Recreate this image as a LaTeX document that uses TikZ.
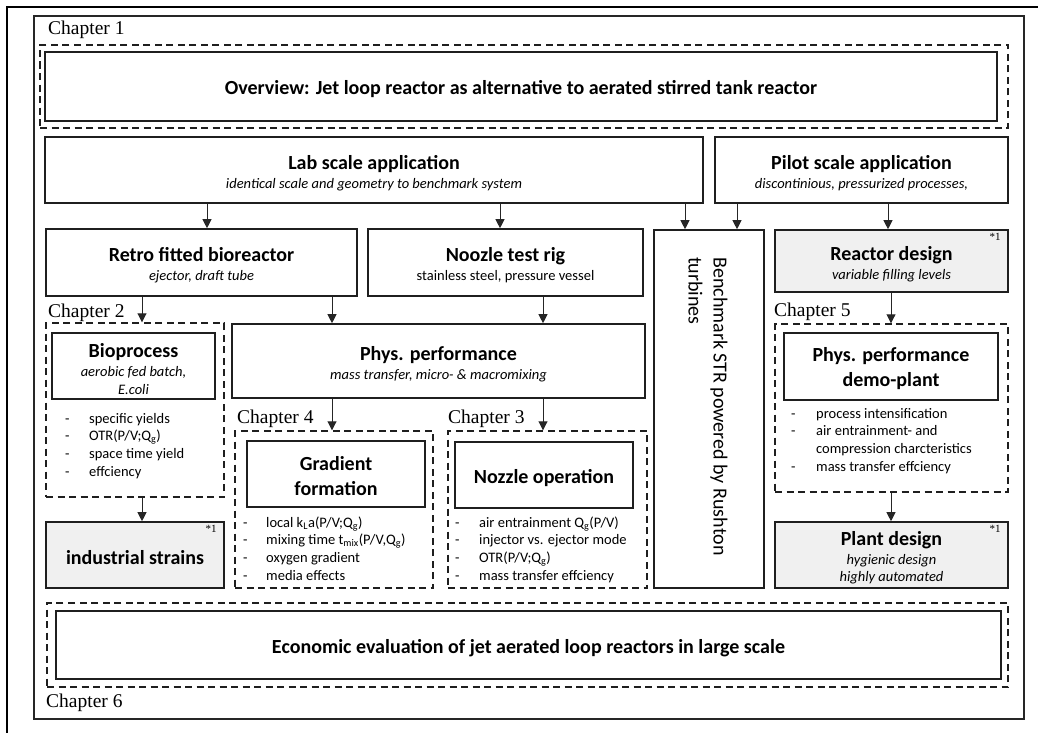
\documentclass[tikz,border=0pt]{standalone}
\usepackage{fontspec}
\setmainfont{Carlito}
\newfontfamily\serifchap{Liberation Serif}
\usetikzlibrary{arrows.meta}
\tikzset{
  sz/.style 2 args={minimum width=#1pt, minimum height=#2pt},
  box/.style={draw=black!88, line width=1.6pt, inner sep=0pt},
  graybox/.style={box, fill=black!6},
  txt/.style={inner sep=0pt, align=center, font=\fontsize{14.5}{17.5}\selectfont},
  bigtxt/.style={inner sep=0pt, align=center, font=\fontsize{20}{24.5}\selectfont\bfseries},
  dbox/.style={draw=black!88, line width=1.4pt, dash pattern=on 7pt off 4.5pt, inner sep=0pt},
  framebox/.style={draw=black!85, line width=1.4pt, inner sep=0pt},
  chap/.style={font=\serifchap\fontsize{19.5}{22}\selectfont, anchor=base west, inner sep=0pt},
  starmark/.style={font=\serifchap\fontsize{11}{13}\selectfont, anchor=north east, inner sep=0pt},
  bul/.style={font=\fontsize{14.5}{17.7}\selectfont, anchor=base west, inner sep=0pt},
  arr/.style={line width=0.9pt, draw=black!85, -{Triangle[width=9pt,length=9pt]}},
}
\newcommand\ttl[1]{{\fontsize{20}{24}\selectfont\bfseries #1}}
\newcommand\dsh[1]{\makebox[#1][l]{-}}
\begin{document}
\begin{tikzpicture}[x=1pt,y=-1pt]
\useasboundingbox (0,0) rectangle (1038,733);
% outer partial border
\draw[line width=2.4pt, black] (7,733) -- (7,7) -- (1038,7);
\node[framebox, sz={990}{703}] (frame) at (529,367.5) {};

% Chapter 1
\node[chap] (ch1) at (48,35) {Chapter 1};
\node[dbox, sz={968}{83}] (d1) at (524,86.5) {};
\node[box, sz={952}{69}] (ov) at (521,86.5) {};
\node[txt] (ovt) at ([yshift=-3pt]ov.center) {\ttl{Overview: Jet loop reactor as alternative to aerated stirred tank reactor}};

\node[box, sz={658}{66}] (lab) at (374,170) {};
\node[txt] (labt) at ([yshift=-3pt]lab.center) {\ttl{Lab scale application}\\[1.5pt] \textit{identical scale and geometry to benchmark system}};
\node[box, sz={293}{66}] (pilot) at (861.5,170) {};
\node[txt] (pilott) at ([yshift=-3pt]pilot.center) {\ttl{Pilot scale application}\\[1.5pt] \textit{discontinious, pressurized processes,}};

\node[box, sz={311}{67}] (retro) at (201.5,262.5) {};
\node[txt] (retrot) at ([yshift=-3pt]retro.center) {\ttl{Retro fitted bioreactor}\\[1.5pt] \textit{ejector, draft tube}};
\node[box, sz={275}{67}] (noozle) at (505.5,262.5) {};
\node[txt] (nooz) at ([yshift=-3pt]noozle.center) {\ttl{Noozle test rig}\\[1.5pt] stainless steel, pressure vessel};
\node[box, sz={110}{358}] (bench) at (709,409) {};
\node[rotate=-90, anchor=west, align=left, inner sep=0pt, font=\fontsize{20}{25}\selectfont] (benchtxt) at (708,257) {Benchmark STR powered by Rushton\\turbines};
\node[graybox, sz={233}{62}] (reactor) at (891.5,261) {};
\node[txt] (reactort) at ([yshift=-3pt]reactor.center) {\ttl{Reactor design}\\[1.5pt] \textit{variable filling levels}};
\node[starmark] (s1) at ([xshift=-8pt,yshift=-4pt]reactor.north east) {*1};

% Chapter 2
\node[chap] (ch2) at (48,317) {Chapter 2};
\node[dbox, sz={178}{174}] (d2) at (135,410) {};
\node[box, sz={163}{66}] (bio) at (133.5,366) {};
\node[txt] (biot) at ([yshift=-3pt]bio.center) {\ttl{Bioprocess}\\[1.5pt] \textit{aerobic fed batch,}\\ \textit{E.coli}};
\node[bul] (bl2) at (65,423) {\begin{tabular}[t]{@{}l@{}}
\dsh{24pt}specific yields\\
\dsh{24pt}OTR(P/V;Q\textsubscript{g})\\
\dsh{24pt}space time yield\\
\dsh{24pt}effciency
\end{tabular}};
\node[graybox, sz={178}{66}] (ind) at (135,555) {};
\node[txt] (indt) at ([yshift=-3pt]ind.center) {\ttl{industrial strains}};
\node[starmark] (s2) at ([xshift=-8pt,yshift=-4pt]ind.north east) {*1};

% Phys performance
\node[box, sz={413}{74}] (phys) at (438.5,361) {};
\node[txt] (physt) at ([yshift=-3pt]phys.center) {\ttl{Phys. performance}\\[1.5pt] \textit{mass transfer, micro- \& macromixing}};

% Chapter 4
\node[chap] (ch4) at (237,423) {Chapter 4};
\node[dbox, sz={198}{157}] (d4) at (334,509.5) {};
\node[box, sz={178}{66}] (grad) at (336,474) {};
\node[bigtxt] (gradt) at ([yshift=-2pt]grad.center) {Gradient\\formation};
\node[bul] (bl4) at (243,527) {\begin{tabular}[t]{@{}l@{}}
\dsh{23pt}local k\textsubscript{L}a(P/V;Q\textsubscript{g})\\
\dsh{23pt}mixing time t\textsubscript{mix}(P/V,Q\textsubscript{g})\\
\dsh{23pt}oxygen gradient\\
\dsh{23pt}media effects
\end{tabular}};

% Chapter 3
\node[chap] (ch3) at (448,423) {Chapter 3};
\node[dbox, sz={199}{157}] (d3) at (547.5,509.5) {};
\node[box, sz={178}{66}] (noz) at (544,475) {};
\node[txt] (nozt) at ([yshift=-3pt]noz.center) {\ttl{Nozzle operation}};
\node[bul] (bl3) at (455,527) {\begin{tabular}[t]{@{}l@{}}
\dsh{24pt}air entrainment Q\textsubscript{g}(P/V)\\
\dsh{24pt}injector vs. ejector mode\\
\dsh{24pt}OTR(P/V;Q\textsubscript{g})\\
\dsh{24pt}mass transfer effciency
\end{tabular}};

% Chapter 5
\node[chap] (ch5) at (774,316) {Chapter 5};
\node[dbox, sz={233}{168}] (d5) at (891.5,408) {};
\node[box, sz={214}{67}] (demo) at (891,366.5) {};
\node[bigtxt] (demot) at ([yshift=-2pt]demo.center) {Phys. performance\\demo-plant};
\node[bul] (bl5) at (791,418) {\begin{tabular}[t]{@{}l@{}}
\dsh{25pt}process intensification\\
\dsh{25pt}air entrainment- and\\
\hspace*{25pt}compression charcteristics\\
\dsh{25pt}mass transfer effciency
\end{tabular}};
\node[graybox, sz={233}{66}] (plant) at (891.5,555) {};
\node[txt] (plantt) at ([yshift=-3pt]plant.center) {\ttl{Plant design}\\[1pt] \textit{hygienic design}\\ \textit{highly automated}};
\node[starmark] (s3) at ([xshift=-8pt,yshift=-4pt]plant.north east) {*1};

% Chapter 6
\node[dbox, sz={961}{84}] (d6) at (527.5,645) {};
\node[box, sz={945}{68}] (econ) at (528.5,645) {};
\node[txt] (econt) at ([yshift=-3pt]econ.center) {\ttl{Economic evaluation of jet aerated loop reactors in large scale}};
\node[chap] (ch6) at (46,707) {Chapter 6};

% arrow columns
\coordinate (a142) at (142,0);
\coordinate (a207) at (207,0);
\coordinate (a332) at (332,0);
\coordinate (a500) at (500,0);
\coordinate (a543) at (543,0);
\coordinate (a685) at (685,0);
\coordinate (a737) at (737,0);
\coordinate (a888) at (888,0);
\coordinate (a891) at (891,0);

\draw[arr] (a207 |- lab.south) -- (a207 |- retro.north);
\draw[arr] (a500 |- lab.south) -- (a500 |- noozle.north);
\draw[arr] (a685 |- lab.south) -- (a685 |- bench.north);
\draw[arr] (a737 |- pilot.south) -- (a737 |- bench.north);
\draw[arr] (a888 |- pilot.south) -- (a888 |- reactor.north);
\draw[arr] (a142 |- retro.south) -- (a142 |- d2.north);
\draw[arr] (a332 |- retro.south) -- (a332 |- phys.north);
\draw[arr] (a543 |- noozle.south) -- (a543 |- phys.north);
\draw[arr] (a332 |- phys.south) -- (a332 |- d4.north);
\draw[arr] (a543 |- phys.south) -- (a543 |- d3.north);
\draw[arr] (a142 |- d2.south) -- (a142 |- ind.north);
\draw[arr] (a891 |- reactor.south) -- (a891 |- d5.north);
\draw[arr] (a891 |- d5.south) -- (a891 |- plant.north);
\end{tikzpicture}
\end{document}
